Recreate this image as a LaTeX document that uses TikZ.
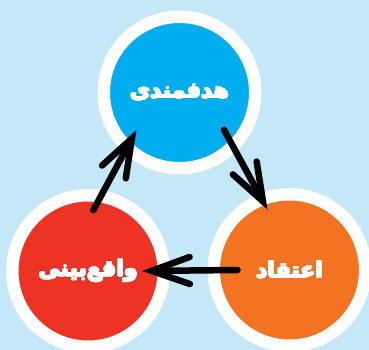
\documentclass[tikz,border=0pt]{standalone}
\usepackage{fontspec}
\usepackage[copies]{contour}
\contourlength{0.7pt}
\newfontfamily\arabicfont[Script=Arabic]{DejaVu Sans}
\TeXXeTstate=1
\usetikzlibrary{arrows.meta,positioning,calc}
\definecolor{skybg}{RGB}{197,232,249}
\definecolor{goalblue}{RGB}{0,174,239}
\definecolor{beliefor}{RGB}{243,115,34}
\definecolor{realred}{RGB}{238,50,36}
\newcommand{\heavytext}[1]{\contour{white}{\beginR #1\endR}}
\begin{document}
\begin{tikzpicture}[
  x=1pt,y=1pt,
  stage/.style={circle,draw=white,line width=12.5pt,minimum size=151.5pt,
    inner sep=0pt,text=white,font=\arabicfont\bfseries\fontsize{22}{28}\selectfont},
  arrow/.style={-{Straight Barb[length=38pt,width=27pt,line cap=round,line join=miter]},
    line width=6.5pt,line cap=round}
]
\useasboundingbox (0,0) rectangle (369,350);
\clip (0,0) rectangle (369,350);
\fill[skybg] (0,0) rectangle (369,350);
\node[stage,fill=goalblue] (goal) at (179.5,257.5) {\heavytext{هدفمندی}};
\node[stage,fill=beliefor] (belief) at (289.5,80) {\heavytext{اعتقاد}};
\node[stage,fill=realred] (real) at (88,79) {\heavytext{واقع‌بینی}};
\draw[arrow] ([shift={(-40:58)}]goal.center) -- ([shift={(110:64)}]belief.center);
\draw[arrow] ([shift={(180:52)}]belief.center) -- ([shift={(0:54)}]real.center);
\draw[arrow] ([shift={(85:61)}]real.center) -- ([shift={(221:57)}]goal.center);
\end{tikzpicture}
\end{document}
